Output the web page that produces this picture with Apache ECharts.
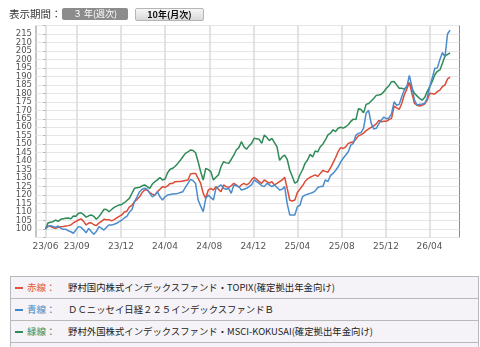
<!DOCTYPE html>
<html>
	<head>
		<meta charset="utf-8">
		<title>基準価額推移</title>
		<script src="https://cdn.jsdelivr.net/npm/echarts@6/dist/echarts.min.js"></script>
		<style>
			body { margin: 0; background: #fff; font-family: "Noto Sans CJK JP", sans-serif; }
			.wrap { position: relative; width: 480px; height: 347px; overflow: hidden; }
			#chart { position: absolute; left: 0; top: 0; width: 480px; height: 262px; }
			.period { position: absolute; left: 9px; top: 7px; font-size: 10.5px; color: #333; line-height: 14px; }
			.btn { position: absolute; top: 8px; height: 12px; line-height: 12px; font-size: 9px; text-align: center; border-radius: 2px; }
			.btn-on { left: 62px; width: 66px; background: #8c8c8c; color: #fff; }
			.btn-off { left: 135px; width: 67px; height: 11px; background: linear-gradient(#f6f6f6, #d9d9d9); border: 1px solid #b5b5b5; color: #111; font-weight: bold; }
			.legend { position: absolute; left: 10px; top: 276px; width: 467px; border: 1px solid #b9b9b9; border-bottom: none; background: #f5f3f7; }
			.legend .row { height: 21px; line-height: 21px; border-bottom: 1px solid #b9b9b9; font-size: 9.4px; color: #222; position: relative; white-space: nowrap; }
			.legend .dash { position: absolute; left: 4px; top: 10px; width: 8px; height: 2px; }
			.legend .key { position: absolute; left: 16px; font-size: 9.5px; }
			.legend .name { position: absolute; left: 57px; }
		</style>
	</head>
	<body>
		<div class="wrap">
			<div id="chart"></div>
			<div class="period">表示期間：</div>
			<div class="btn btn-on">３ 年(週次)</div>
			<div class="btn btn-off">10年(月次)</div>
			<div class="legend">
				<div class="row"><span class="dash" style="background:#e0503c"></span><span class="key" style="color:#e0503c">赤線：</span><span class="name">野村国内株式インデックスファンド・TOPIX(確定拠出年金向け)</span></div>
				<div class="row"><span class="dash" style="background:#3d87c4"></span><span class="key" style="color:#3d87c4">青線：</span><span class="name">ＤＣニッセイ日経２２５インデックスファンドＢ</span></div>
				<div class="row"><span class="dash" style="background:#2e8b57"></span><span class="key" style="color:#2e8b57">緑線：</span><span class="name">野村外国株式インデックスファンド・MSCI-KOKUSAI(確定拠出年金向け)</span></div>
				<div class="row"></div>
			</div>
		</div>
		<script>
			// 週次の基準価額（開始時点 = 100）
			var redData = [
				100, 101.8, 101.5, 100.8, 100.4, 101, 101.4, 101.5, 101.8, 102,
				102.4, 103.7, 104.5, 105.3, 106, 104.5, 102.4, 103.5, 103.7, 102.5,
				102, 103.5, 104.5, 105.7, 105.5, 105.5, 104.8, 105.5, 106.5, 107.5,
				108.3, 110, 110.5, 113, 114, 116.1, 117.5, 119, 121.5, 123,
				123, 121.5, 120.6, 120, 122, 123.4, 125, 124.6, 125.4, 126.9,
				126.9, 127.9, 128, 128, 128.3, 128.6, 128.9, 132.4, 132.8, 132.8,
				129.9, 126.9, 121, 118.1, 123, 124, 123, 125, 123.5, 122,
				126, 125, 124.6, 125.5, 126.9, 126, 124.6, 126, 126.9, 126,
				126.9, 129, 130.5, 129.3, 128, 126.9, 128.9, 128, 127, 127.9,
				126, 126.9, 128, 128.9, 130.5, 124, 117, 116.5, 117.1, 121.5,
				123.5, 125.5, 128, 129.5, 130.5, 131.2, 131.9, 131, 132.8, 134.5,
				134, 133.5, 136, 139, 142, 145.6, 148, 147.5, 148.5, 150.5,
				151, 151.5, 153, 155, 155.5, 156.5, 158, 159, 160, 160.8,
				162, 164, 163.3, 163.5, 163.5, 164.5, 165.2, 172.5, 171.5, 170.5,
				174, 179, 182.5, 186.5, 180, 174.1, 173, 172.5, 173, 173.7,
				176, 180, 179.8, 179.6, 181, 181.9, 184, 185, 188.5, 189.5
			];
			var blueData = [
				100, 101.4, 102, 101.5, 101, 101.8, 100.5, 99.8, 99.8, 99,
				98.4, 97.5, 99.5, 101.4, 101, 99.5, 97.8, 100.4, 98.5, 96.9,
				98.5, 101.4, 100.5, 99.4, 101, 102.4, 102.4, 102.8, 103.4, 104.3,
				105.3, 106.5, 107.5, 110, 111.5, 116.1, 119, 122, 123.5, 124,
				123.5, 121, 119, 120, 122, 119, 117.1, 119, 120, 120.3,
				120.6, 120.8, 121, 121.5, 122, 124.5, 126.9, 129.3, 128.5, 126.9,
				117.1, 113.5, 110.2, 118.1, 120, 118.5, 117.1, 124, 125, 126,
				124, 123.5, 124, 121, 126, 125.5, 125, 123, 123.5, 124,
				125, 126, 128.9, 128, 126.9, 125.5, 125, 126.9, 126, 125,
				126, 124.5, 123, 123.4, 125, 115, 108.3, 108.3, 108.3, 113.2,
				114, 119, 120, 120.5, 121, 121.5, 122.5, 124.5, 125, 125,
				129, 128, 131.5, 132.8, 134.5, 136.7, 139.5, 141.7, 143.6, 145.6,
				149.5, 150.5, 155.4, 156.4, 156.8, 159.4, 168.2, 170, 162.3, 159,
				159.4, 162, 164.3, 166, 165, 165.5, 168, 175, 173, 173.5,
				178, 182, 184, 190.5, 184, 176, 173.1, 173.5, 173.7, 174,
				177.1, 183.9, 189, 194.8, 195, 200, 204, 201.5, 215, 217.3
			];
			var greenData = [
				100, 103.5, 104, 104.3, 105.3, 104.5, 105.7, 106, 106.3, 106.5,
				106, 107.7, 107.5, 109.3, 109.6, 108.5, 107, 107.8, 108.3, 107.5,
				105.7, 107.3, 109.3, 111.6, 111.5, 110.2, 111.5, 112.8, 113.5, 114.2,
				114.5, 115.5, 116.8, 118.1, 121, 124, 124.3, 124.6, 125.5, 126,
				125, 124, 126.5, 127.9, 129, 130.3, 128.9, 129.5, 133.2, 135.2,
				135.8, 137, 138.7, 140.5, 142.6, 144.6, 145.5, 146.6, 146.3, 145,
				139.7, 133.8, 128.9, 135.8, 135, 133.8, 128.9, 130.5, 131.9, 136.7,
				139.7, 139, 138.7, 141, 143.6, 146.6, 148, 151.5, 148.5, 147,
				149, 150.5, 153.5, 153.2, 152.9, 150.5, 155.4, 154, 152.1, 153.5,
				151, 148.5, 140.5, 142.5, 143.6, 141, 134.8, 131, 127, 128,
				132, 134.8, 138.7, 140.7, 144, 142.5, 146, 145.5, 148.5, 150,
				152.5, 155.5, 156.5, 158.5, 157.4, 159.4, 160, 159.5, 160.3, 161.5,
				163.5, 164.8, 164.5, 171, 170.5, 168.5, 173.5, 174, 175.5, 177,
				178.8, 179, 179.5, 181, 183, 184.5, 186.9, 187, 185, 183,
				183, 182.5, 184, 185.9, 183, 180, 178.5, 177, 176, 177.5,
				181, 184, 187, 191, 193, 193.8, 197.7, 202, 203, 203.8
			];
			// 目盛の位置（週番号）とラベル
			var xTickPos = [0, 12.3, 29.7, 47.0, 64.4, 81.7, 99.0, 116.4, 133.8, 150.9];
			var xTickLabels = ['23/06', '23/09', '23/12', '24/04', '24/08', '24/12', '25/04', '25/08', '25/12', '26/04'];
			var yTickLabels = [100, 105, 110, 115, 120, 125, 130, 135, 140, 145, 150, 155, 160, 165, 170, 175, 180, 185, 190, 195, 200, 205, 210, 215];

			function toPairs(arr) {
				var out = [];
				for (var i = 0; i < arr.length; i++) {
					out.push([i, arr[i]]);
				}
				return out;
			}

			var chart = echarts.init(document.getElementById('chart'), null, { renderer: 'canvas' });

			var option = {
				animation: false,
				grid: {
					left: 36,
					right: 20.5,
					top: 25.5,
					height: 212,
					show: true,
					borderColor: '#8a8a8a',
					borderWidth: 1
				},
				xAxis: {
					type: 'value',
					min: -3.7,
					max: 162.7,
					axisLine: { show: false },
					axisTick: { show: false, customValues: xTickPos },
					axisLabel: {
						customValues: xTickPos,
						margin: 5,
						fontSize: 9,
						color: '#555',
						fontFamily: 'DejaVu Sans',
						formatter: function(v) {
							var best = 0;
							for (var i = 1; i < xTickPos.length; i++) {
								if (Math.abs(xTickPos[i] - v) < Math.abs(xTickPos[best] - v)) best = i;
							}
							return xTickLabels[best];
						}
					},
					splitLine: {
						show: true,
						lineStyle: { color: '#dadada', width: 1.5 }
					}
				},
				yAxis: {
					type: 'value',
					min: 95,
					max: 220,
					interval: 5,
					axisLine: { show: false },
					axisTick: { show: true, length: 2, lineStyle: { color: '#aaa' } },
					axisLabel: {
						margin: 4,
						fontSize: 8.5,
						color: '#555',
						fontFamily: 'DejaVu Sans',
						hideOverlap: false,
						formatter: function(v) {
							return yTickLabels.indexOf(v) >= 0 ? String(v) : '';
						}
					},
					splitLine: {
						show: true,
						lineStyle: { color: '#e6e6e6', width: 1 }
					}
				},
				series: [{
					name: '緑線',
					type: 'line',
					data: toPairs(greenData),
					showSymbol: false,
					lineStyle: { color: '#2e8b57', width: 1.5 },
					z: 3
				}, {
					name: '赤線',
					type: 'line',
					data: toPairs(redData),
					showSymbol: false,
					lineStyle: { color: '#dc4b36', width: 1.5 },
					z: 4
				}, {
					name: '青線',
					type: 'line',
					data: toPairs(blueData),
					showSymbol: false,
					lineStyle: { color: '#4a8ccc', width: 1.5 },
					z: 5
				}]
			};
			chart.setOption(option);
		</script>
	</body>
</html>
